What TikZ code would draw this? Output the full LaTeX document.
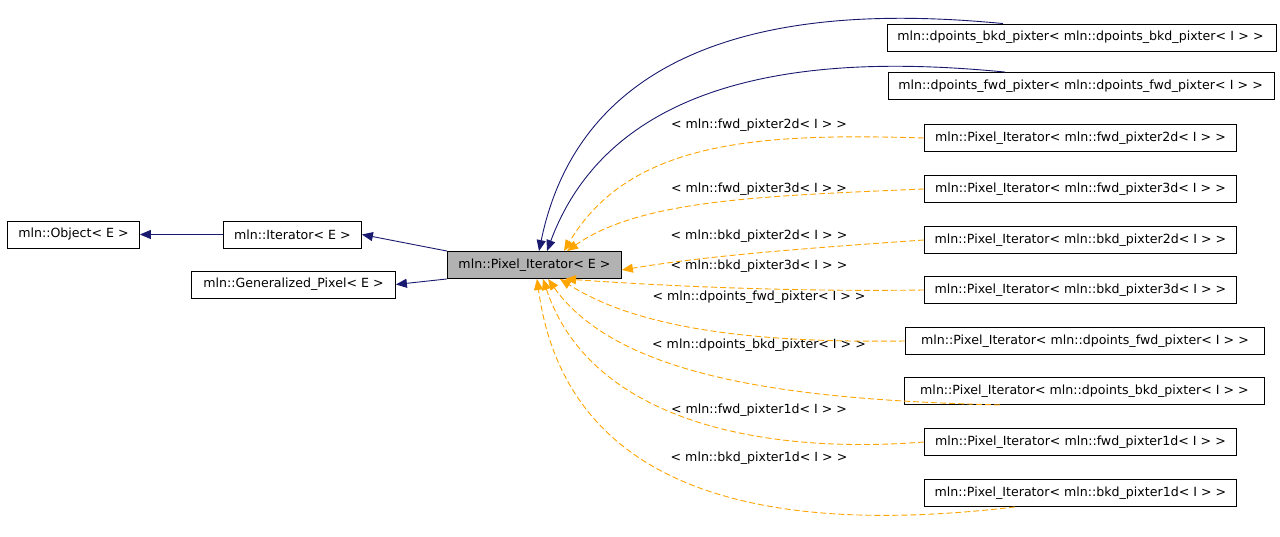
\documentclass[tikz,border=0pt]{standalone}
\usepackage{fontspec}
\setmainfont{DejaVu Sans}
\usetikzlibrary{arrows, arrows.meta, positioning}
\definecolor{edgeblue}{RGB}{25,25,112}
\definecolor{edgeorange}{RGB}{255,165,0}
\tikzset{every picture/.style={font issue=\fontsize{12.6}{14}},
         font issue/.style={execute at begin picture={#1\selectfont}}
        }
\begin{document}
\begin{tikzpicture}[x=1pt, y=-1pt,
  cls/.style={draw, line width=0.9pt, inner sep=0pt, minimum height=27pt, anchor=west},
  inh/.style={-{Stealth[length=11pt,width=9pt,inset=0pt]}, edgeblue, line width=0.9pt},
  tpl/.style={-{Stealth[length=11pt,width=9pt,inset=0pt]}, edgeorange, line width=0.9pt, dash pattern=on 6pt off 3pt},
  lbl/.style={inner sep=1pt}]
\useasboundingbox (0,0) rectangle (1280,537);
\node[cls, minimum width=132pt] (object) at (7,234.5){mln::Object< E >};
\node[cls, minimum width=138pt] (iterator) at (223,234.5){mln::Iterator< E >};
\node[cls, minimum width=204pt] (genpixel) at (191,284.5){mln::Generalized\_Pixel< E >};
\node[cls, minimum width=174pt, fill=black!30] (pixiter) at (447,265){mln::Pixel\_Iterator< E >};

\node[cls, minimum width=389pt, text width=389pt, align=left] (dbkdd) at (887,37.5){\hspace*{10pt}mln::dpoints\_bkd\_pixter< mln::dpoints\_bkd\_pixter< I > >};
\node[cls, minimum width=386pt, text width=386pt, align=left] (dfwdd) at (888,86){\hspace*{10pt}mln::dpoints\_fwd\_pixter< mln::dpoints\_fwd\_pixter< I > >};
\node[cls, minimum width=312pt] (fwdtwo) at (924,138){mln::Pixel\_Iterator< mln::fwd\_pixter2d< I > >};
\node[cls, minimum width=312pt] (fwdthree) at (924,189){mln::Pixel\_Iterator< mln::fwd\_pixter3d< I > >};
\node[cls, minimum width=312pt] (bkdtwo) at (924,240){mln::Pixel\_Iterator< mln::bkd\_pixter2d< I > >};
\node[cls, minimum width=312pt] (bkdthree) at (924,290){mln::Pixel\_Iterator< mln::bkd\_pixter3d< I > >};
\node[cls, minimum width=359pt] (dfwd) at (905,341){mln::Pixel\_Iterator< mln::dpoints\_fwd\_pixter< I > >};
\node[cls, minimum width=360pt] (dbkd) at (904,391){mln::Pixel\_Iterator< mln::dpoints\_bkd\_pixter< I > >};
\node[cls, minimum width=312pt] (fwdone) at (924,442){mln::Pixel\_Iterator< mln::fwd\_pixter1d< I > >};
\node[cls, minimum width=312pt] (bkdone) at (924,493){mln::Pixel\_Iterator< mln::bkd\_pixter1d< I > >};

% edge labels
\node[lbl] (lfwdtwo) at (759,125){< mln::fwd\_pixter2d< I > >};
\node[lbl] (lfwdthree) at (759,189){< mln::fwd\_pixter3d< I > >};
\node[lbl] (lbkdtwo) at (759,236){< mln::bkd\_pixter2d< I > >};
\node[lbl] (lbkdthree) at (759,266){< mln::bkd\_pixter3d< I > >};
\node[lbl] (ldfwd) at (759,297){< mln::dpoints\_fwd\_pixter< I > >};
\node[lbl] (ldbkd) at (759,345){< mln::dpoints\_bkd\_pixter< I > >};
\node[lbl] (lfwdone) at (759,410){< mln::fwd\_pixter1d< I > >};
\node[lbl] (lbkdone) at (759,458){< mln::bkd\_pixter1d< I > >};

\draw[inh] (iterator) -- (object);
\draw[inh] (pixiter.north west) -- (iterator.east);
\draw[inh] (pixiter.south west) -- (genpixel.east);
\draw[inh] ([xshift=116pt]dbkdd.north west) .. controls (860,10) and (590,5) .. ([xshift=92pt]pixiter.north west);
\draw[inh] ([xshift=117pt]dfwdd.north west) .. controls (860,58) and (620,55) .. ([xshift=100pt]pixiter.north west);

\draw[tpl] (fwdtwo.west) .. controls (760,133) and (630,140) .. ([xshift=117pt]pixiter.north west);
\draw[tpl] (fwdthree.west) .. controls (760,196) and (640,200) .. ([xshift=120pt]pixiter.north west);
\draw[tpl] (bkdtwo.west) .. controls (780,250) and (700,257) .. ([yshift=-5pt]pixiter.east);
\draw[tpl] (bkdthree.west) .. controls (780,292) and (650,285) .. ([xshift=118pt]pixiter.south west);
\draw[tpl] (dfwd.west) .. controls (760,343) and (640,330) .. ([xshift=113pt]pixiter.south west);
\draw[tpl] ([xshift=96pt]dbkd.south west) .. controls (800,400) and (620,380) .. ([xshift=101pt]pixiter.south west);
\draw[tpl] (fwdone.west) .. controls (760,455) and (590,420) .. ([xshift=96pt]pixiter.south west);
\draw[tpl] ([xshift=91pt]bkdone.south west) .. controls (820,530) and (570,520) .. ([xshift=90pt]pixiter.south west);
\end{tikzpicture}
\end{document}
